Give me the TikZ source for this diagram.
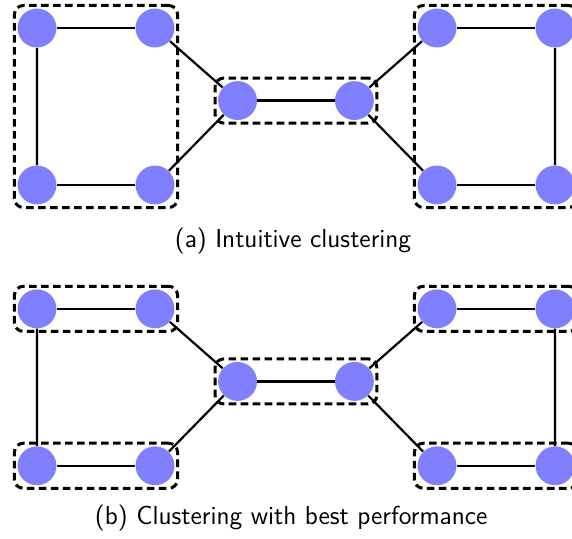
\documentclass[tikz,border=0pt]{standalone}
\usetikzlibrary{fit}

\begin{document}
\begin{tikzpicture}[scale=0.933,
    vtx/.style={circle, fill=blue!50, minimum size=17.5pt, inner sep=0pt},
    grp/.style={draw, line width=1.35pt, dash pattern=on 3.4pt off 2pt, rounded corners=4pt, inner sep=1.2pt},
    link/.style={line width=1pt},
    captxt/.style={font=\sffamily\fontsize{11.7}{14}\selectfont}]
    \useasboundingbox (-5.017,1.805) rectangle (4.678,-7.314);
    \clip (-5.017,1.805) rectangle (4.678,-7.314);
    % (a) intuitive clustering
    \node[vtx] (a1) at (-4.39,1.33) {};
    \node[vtx] (a2) at (-2.39,1.33) {};
    \node[vtx] (a3) at (-4.39,-1.33) {};
    \node[vtx] (a4) at (-2.39,-1.33) {};
    \node[vtx] (a5) at (-0.99,0.1) {};
    \node[vtx] (a6) at (0.99,0.1) {};
    \node[vtx] (a7) at (2.39,1.33) {};
    \node[vtx] (a8) at (4.39,1.33) {};
    \node[vtx] (a9) at (2.39,-1.33) {};
    \node[vtx] (a10) at (4.39,-1.33) {};
    \draw[link] (a1) -- (a2);
    \draw[link] (a1) -- (a3);
    \draw[link] (a3) -- (a4);
    \draw[link] (a2) -- (a5);
    \draw[link] (a4) -- (a5);
    \draw[link] (a5) -- (a6);
    \draw[link] (a6) -- (a7);
    \draw[link] (a6) -- (a9);
    \draw[link] (a7) -- (a8);
    \draw[link] (a8) -- (a10);
    \draw[link] (a9) -- (a10);
    \node[grp, fit=(a1)(a2)(a3)(a4)] (ga1) {};
    \node[grp, fit=(a5)(a6)] (ga2) {};
    \node[grp, fit=(a7)(a8)(a9)(a10)] (ga3) {};
    \node[captxt] (capa) at (-0.05,-2.28) {(a) Intuitive clustering};
    % (b) best performance
    \node[vtx] (b1) at (-4.39,-3.43) {};
    \node[vtx] (b2) at (-2.39,-3.43) {};
    \node[vtx] (b3) at (-4.39,-6.09) {};
    \node[vtx] (b4) at (-2.39,-6.09) {};
    \node[vtx] (b5) at (-0.99,-4.66) {};
    \node[vtx] (b6) at (0.99,-4.66) {};
    \node[vtx] (b7) at (2.39,-3.43) {};
    \node[vtx] (b8) at (4.39,-3.43) {};
    \node[vtx] (b9) at (2.39,-6.09) {};
    \node[vtx] (b10) at (4.39,-6.09) {};
    \draw[link] (b1) -- (b2);
    \draw[link] (b1) -- (b3);
    \draw[link] (b3) -- (b4);
    \draw[link] (b2) -- (b5);
    \draw[link] (b4) -- (b5);
    \draw[link] (b5) -- (b6);
    \draw[link] (b6) -- (b7);
    \draw[link] (b6) -- (b9);
    \draw[link] (b7) -- (b8);
    \draw[link] (b8) -- (b10);
    \draw[link] (b9) -- (b10);
    \node[grp, fit=(b1)(b2)] (gb1) {};
    \node[grp, fit=(b3)(b4)] (gb2) {};
    \node[grp, fit=(b5)(b6)] (gb3) {};
    \node[grp, fit=(b7)(b8)] (gb4) {};
    \node[grp, fit=(b9)(b10)] (gb5) {};
    \node[captxt] (capb) at (-0.08,-6.97) {(b) Clustering with best performance};
\end{tikzpicture}
\end{document}
